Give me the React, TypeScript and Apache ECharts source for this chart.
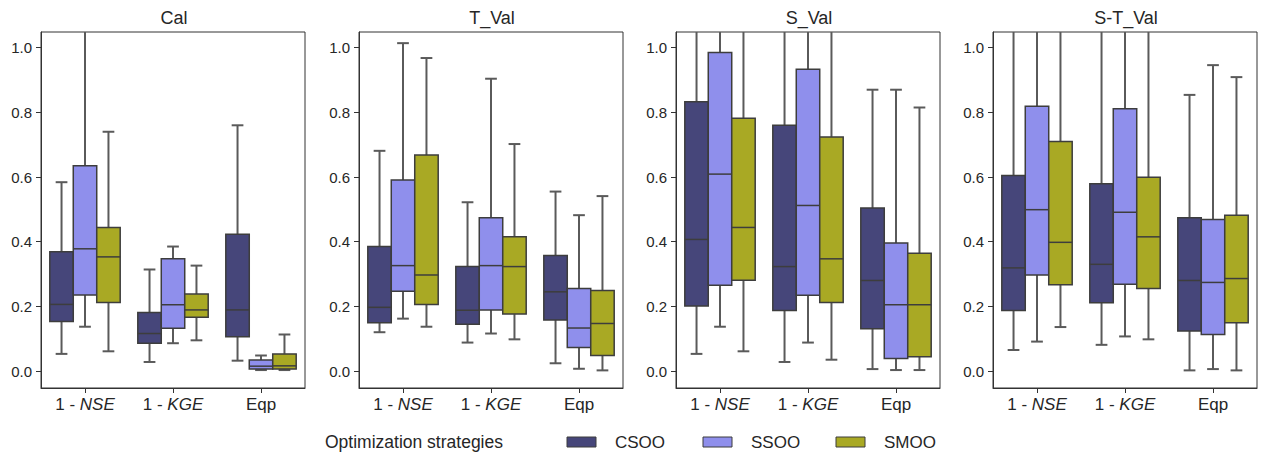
import React, { useEffect, useRef } from 'react';
import * as echarts from 'echarts';

const categories = ['1 - NSE', '1 - KGE', 'Eqp'];
const panels = ['Cal', 'T_Val', 'S_Val', 'S-T_Val'];
const strategies = ['CSOO', 'SSOO', 'SMOO'];
const legendTitle = 'Optimization strategies';
const yTicks = [0, 0.2, 0.4, 0.6, 0.8, 1.0];
const colors = ['#46467a', '#8f8fec', '#a9a924'];

// each row: [lower whisker, Q1, median, Q3, upper whisker] for 1-NSE, 1-KGE, Eqp
const calCSOO = [[0.053, 0.153, 0.206, 0.369, 0.584], [0.028, 0.086, 0.116, 0.181, 0.314], [0.032, 0.106, 0.189, 0.423, 0.760]];
const calSSOO = [[0.137, 0.235, 0.378, 0.635, 1.15], [0.086, 0.132, 0.205, 0.347, 0.385], [0.003, 0.006, 0.015, 0.034, 0.048]];
const calSMOO = [[0.061, 0.212, 0.353, 0.444, 0.740], [0.095, 0.166, 0.189, 0.238, 0.326], [0.003, 0.006, 0.016, 0.053, 0.113]];

const tvalCSOO = [[0.120, 0.149, 0.197, 0.385, 0.681], [0.088, 0.145, 0.188, 0.323, 0.522], [0.024, 0.158, 0.245, 0.357, 0.555]];
const tvalSSOO = [[0.162, 0.247, 0.326, 0.591, 1.014], [0.116, 0.189, 0.326, 0.474, 0.904], [0.007, 0.073, 0.133, 0.255, 0.482]];
const tvalSMOO = [[0.137, 0.206, 0.297, 0.668, 0.968], [0.098, 0.176, 0.323, 0.415, 0.702], [0.002, 0.048, 0.147, 0.249, 0.541]];

const svalCSOO = [[0.053, 0.201, 0.407, 0.833, 1.2], [0.028, 0.187, 0.323, 0.760, 1.2], [0.006, 0.131, 0.280, 0.504, 0.870]];
const svalSSOO = [[0.137, 0.265, 0.609, 0.985, 1.2], [0.088, 0.234, 0.512, 0.933, 1.2], [0.003, 0.039, 0.205, 0.396, 0.870]];
const svalSMOO = [[0.061, 0.281, 0.444, 0.782, 1.2], [0.035, 0.212, 0.347, 0.724, 1.2], [0.003, 0.044, 0.205, 0.364, 0.815]];

const stvalCSOO = [[0.065, 0.187, 0.319, 0.605, 1.2], [0.081, 0.211, 0.330, 0.579, 1.2], [0.002, 0.124, 0.280, 0.474, 0.854]];
const stvalSSOO = [[0.091, 0.297, 0.499, 0.819, 1.2], [0.107, 0.268, 0.491, 0.811, 1.2], [0.006, 0.113, 0.274, 0.469, 0.946]];
const stvalSMOO = [[0.136, 0.267, 0.398, 0.710, 1.2], [0.098, 0.255, 0.415, 0.599, 1.2], [0.002, 0.149, 0.286, 0.482, 0.909]];

const panelData = [
  [calCSOO, calSSOO, calSMOO],
  [tvalCSOO, tvalSSOO, tvalSMOO],
  [svalCSOO, svalSSOO, svalSMOO],
  [stvalCSOO, stvalSSOO, stvalSMOO],
];

const GRID_LEFT = [41, 359, 676, 993];
const GRID_W = 264;
const GRID_TOP = 32;
const GRID_H = 356;
const Y_MIN = -0.0525;
const Y_MAX = 1.0485;
const LEGEND_X = [567, 703, 836];
const LEGEND_Y = 442;

const SANS = '"Liberation Sans", Arial, sans-serif';
const EDGE = '#3d3d3d';
const WHISK = '#5a5a5a';
const TEXT = '#262626';

function makeRender(h: number) {
  return (params: any, api: any) => {
    const ci = api.value(0);
    const band = api.size([1, 0])[0];
    const bw = (band * 0.8) / 3;
    const cx = api.coord([ci, 0])[0] + (h - 1) * bw;
    const cs = params.coordSys;
    const top = cs.y;
    const bottom = cs.y + cs.height;
    const py = (k: number) => Math.min(bottom, Math.max(top, api.coord([ci, api.value(k)])[1]));
    const lo = py(1), q1 = py(2), med = py(3), q3 = py(4), hi = py(5);
    const wStyle = { stroke: WHISK, lineWidth: 2 };
    const capW = bw / 2;
    const children: any[] = [
      { type: 'line', shape: { x1: cx, y1: q3, x2: cx, y2: hi }, style: wStyle },
      { type: 'line', shape: { x1: cx, y1: q1, x2: cx, y2: lo }, style: wStyle },
      { type: 'line', shape: { x1: cx - capW / 2, y1: lo, x2: cx + capW / 2, y2: lo }, style: wStyle },
    ];
    if (api.value(5) <= Y_MAX) {
      children.push({ type: 'line', shape: { x1: cx - capW / 2, y1: hi, x2: cx + capW / 2, y2: hi }, style: wStyle });
    }
    children.push({
      type: 'rect',
      shape: { x: cx - bw / 2, y: q3, width: bw, height: q1 - q3 },
      style: { fill: colors[h], stroke: EDGE, lineWidth: 1.5 },
    });
    children.push({
      type: 'line',
      shape: { x1: cx - bw / 2, y1: med, x2: cx + bw / 2, y2: med },
      style: { stroke: EDGE, lineWidth: 1.5 },
    });
    return { type: 'group', children };
  };
}

export default function App() {
  const ref = useRef<HTMLDivElement>(null);
  useEffect(() => {
    document.body.style.margin = '0';
    const chart = echarts.init(ref.current!, undefined, { renderer: 'svg' });
    const series: any[] = [];
    panelData.forEach((groups, p) => {
      groups.forEach((arr, h) => {
        series.push({
          type: 'custom',
          name: strategies[h],
          xAxisIndex: p,
          yAxisIndex: p,
          data: arr.map((d, ci) => [ci, ...d]),
          encode: { x: 0, y: [1, 2, 3, 4, 5] },
          itemStyle: { color: colors[h], borderColor: EDGE, borderWidth: 1 },
          renderItem: makeRender(h),
        });
      });
    });
    const legendGraphics: any[] = [
      {
        type: 'text',
        x: 325,
        y: LEGEND_Y,
        style: { text: legendTitle, font: `17.5px ${SANS}`, fill: TEXT, verticalAlign: 'middle' },
      },
    ];
    strategies.forEach((s, i) => {
      legendGraphics.push({
        type: 'rect',
        shape: { x: LEGEND_X[i], y: LEGEND_Y - 5, width: 29, height: 10 },
        style: { fill: colors[i], stroke: EDGE, lineWidth: 1 },
      });
      legendGraphics.push({
        type: 'text',
        x: LEGEND_X[i] + 48,
        y: LEGEND_Y,
        style: { text: s, font: `17px ${SANS}`, fill: TEXT, verticalAlign: 'middle' },
      });
    });
    chart.setOption({
      animation: false,
      title: panels.map((t, i) => ({
        text: t,
        left: GRID_LEFT[i] + GRID_W / 2 - 4,
        top: 4,
        textAlign: 'center',
        textStyle: { fontFamily: SANS, fontSize: 18, fontWeight: 'normal', color: TEXT },
      })),
      grid: GRID_LEFT.map((l) => ({
        left: l,
        top: GRID_TOP,
        width: GRID_W,
        height: GRID_H,
        show: true,
        borderColor: '#333',
        borderWidth: 1,
        backgroundColor: 'transparent',
      })),
      xAxis: GRID_LEFT.map((_, i) => ({
        type: 'category',
        gridIndex: i,
        data: categories,
        axisLine: { show: true, onZero: false, lineStyle: { color: '#333' } },
        axisTick: { show: true, alignWithLabel: true, interval: 0, length: 5, lineStyle: { color: '#333' } },
        splitLine: { show: false },
        axisLabel: {
          interval: 0,
          margin: 8,
          formatter: (v: string) => {
            const m = /^(1 - )(.+)$/.exec(v);
            return m ? `{n|${m[1]}}{i|${m[2]}}` : `{n|${v}}`;
          },
          rich: {
            n: { fontFamily: SANS, fontSize: 17, color: TEXT },
            i: { fontFamily: SANS, fontSize: 17, fontStyle: 'italic', color: TEXT },
          },
        },
      })),
      yAxis: GRID_LEFT.map((_, i) => ({
        type: 'value',
        gridIndex: i,
        min: Y_MIN,
        max: Y_MAX,
        axisLine: { show: true, lineStyle: { color: '#333' } },
        axisTick: { show: true, length: 5, customValues: yTicks, lineStyle: { color: '#333' } },
        splitLine: { show: false },
        axisLabel: {
          customValues: yTicks,
          margin: 9,
          formatter: (v: number) => v.toFixed(1),
          fontFamily: SANS,
          fontSize: 15,
          color: TEXT,
        },
      })),
      graphic: legendGraphics,
      series,
    });
    return () => chart.dispose();
  }, []);
  return <div ref={ref} style={{ width: 1270, height: 458 }} />;
}
